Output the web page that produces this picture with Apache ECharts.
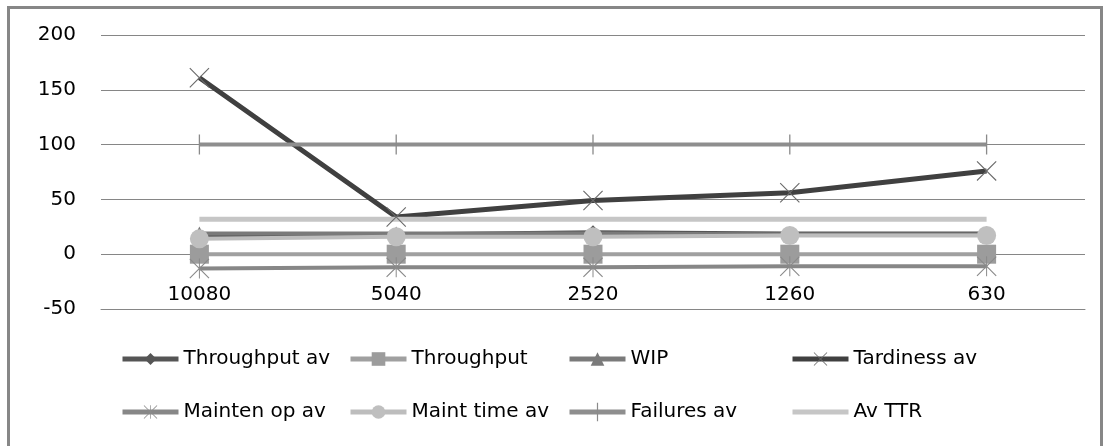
<!DOCTYPE html>
<html>
<head>
<meta charset="utf-8">
<script src="https://cdn.jsdelivr.net/npm/echarts@6/dist/echarts.min.js"></script>
<style>
html,body{margin:0;padding:0;background:#fff;}
#chart{width:1107px;height:446px;}
</style>
</head>
<body>
<div id="chart"></div>
<script>
var categories = ['10080', '5040', '2520', '1260', '630'];
var yTicks = [-50, 0, 50, 100, 150, 200];

var throughputAv = [17, 18, 20, 19, 19];
var throughput   = [0, 0, 0, 0, 0];
var wip          = [19, 19, 19, 18, 18];
var tardinessAv  = [161, 34, 49, 56, 76];
var maintenOpAv  = [-13, -12, -12, -11, -11];
var maintTimeAv  = [14, 16, 16, 17, 17];
var failuresAv   = [100, 100, 100, 100, 100];
var avTTR        = [32, 32, 32, 32, 32];

var seriesNames = ['Throughput av', 'Throughput', 'WIP', 'Tardiness av',
                   'Mainten op av', 'Maint time av', 'Failures av', 'Av TTR'];

var FONT = 'DejaVu Sans';
var X_PATH = 'path://M0,0.8 L0.8,0 L10,9.2 L19.2,0 L20,0.8 L10.8,10 L20,19.2 L19.2,20 L10,10.8 L0.8,20 L0,19.2 L9.2,10 Z';
var AST_PATH = 'path://M0,0.8 L0.8,0 L10,9.2 L19.2,0 L20,0.8 L10.8,10 L20,19.2 L19.2,20 L10,10.8 L0.8,20 L0,19.2 L9.2,10 Z M9.5,0 L10.5,0 L10.5,20 L9.5,20 Z';
var BAR_PATH = 'path://M0,10 L20,10 L0,10 Z M9.35,0 L10.65,0 L10.65,20 L9.35,20 Z';

function mk(name, data, color, width, symbol, size, symColor) {
  return {
    name: name, type: 'line', data: data,
    symbol: symbol, symbolSize: size, showSymbol: symbol !== 'none',
    lineStyle: { color: color, width: width },
    itemStyle: { color: symColor || color, borderWidth: 0 },
    emphasis: { disabled: true },
    animation: false
  };
}

var series = [
  mk(seriesNames[0], throughputAv, '#555555', 4, 'diamond', 14),
  mk(seriesNames[1], throughput, '#a0a0a0', 4, 'rect', 19, '#9c9c9c'),
  mk(seriesNames[2], wip, '#7a7a7a', 4, 'triangle', 14),
  mk(seriesNames[3], tardinessAv, '#404040', 5, X_PATH, 20, '#6a6a6a'),
  mk(seriesNames[4], maintenOpAv, '#878787', 4, AST_PATH, 20, '#8a8a8a'),
  mk(seriesNames[5], maintTimeAv, '#bdbdbd', 4, 'circle', 19, '#bfbfbf'),
  mk(seriesNames[6], failuresAv, '#8e8e8e', 4, BAR_PATH, 20, '#8a8a8a'),
  mk(seriesNames[7], avTTR, '#c6c6c6', 5, 'none', 0)
];

var legendPos = [
  [120, 349], [348, 349], [567, 349], [790, 349],
  [120, 402], [348, 402], [567, 402], [790, 402]
];
var legendIconH = [15, 17, 17, 17, 17, 17, 23, 15];
var legends = seriesNames.map(function (n, i) {
  return {
    data: [n], left: legendPos[i][0], top: legendPos[i][1], padding: 0,
    itemWidth: 56, itemHeight: legendIconH[i], selectedMode: false,
    lineStyle: { width: 5 },
    itemStyle: i === 7 ? { opacity: 0 } : {},
    textStyle: { fontFamily: FONT, fontSize: 20, color: '#000' }
  };
});

var chart = echarts.init(document.getElementById('chart'), null, { renderer: 'canvas' });
chart.setOption({
  animation: false,
  backgroundColor: '#ffffff',
  graphic: [{
    type: 'rect', left: 6, top: 5, z: 100, silent: true,
    shape: { width: 1093, height: 500 },
    style: { fill: 'none', stroke: '#878787', lineWidth: 3 }
  }],
  grid: { left: 101, right: 22, top: 35, bottom: 137, containLabel: false },
  legend: legends,
  xAxis: {
    type: 'category', data: categories, boundaryGap: true, position: 'bottom',
    axisLine: { show: true, onZero: false, lineStyle: { color: '#868686', width: 1 } },
    axisTick: { show: false },
    axisLabel: { inside: true, margin: 4, fontFamily: FONT, fontSize: 20, color: '#000' },
    splitLine: { show: false }
  },
  yAxis: {
    type: 'value', min: yTicks[0], max: yTicks[yTicks.length - 1], interval: 50,
    axisLine: { show: false }, axisTick: { show: false },
    axisLabel: { margin: 25, fontFamily: FONT, fontSize: 20, color: '#000' },
    splitLine: { lineStyle: { color: '#868686', width: 1 } }
  },
  series: series
});
</script>
</body>
</html>
